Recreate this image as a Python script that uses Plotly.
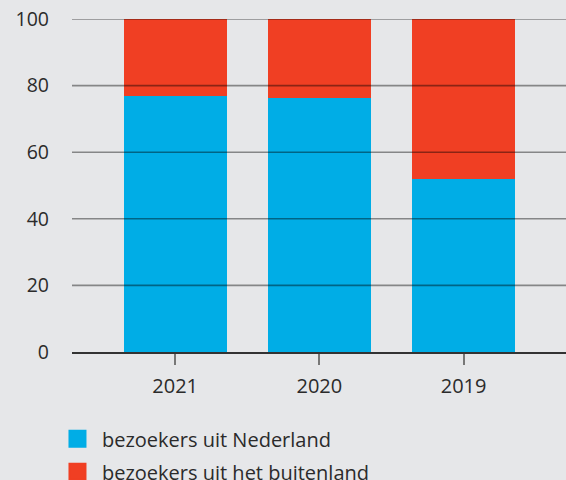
import plotly.graph_objects as go

years = ["2021", "2020", "2019"]
nederland = [77.0, 76.3, 52.0]
buitenland = [23.0, 23.7, 48.0]
series_names = ["bezoekers uit Nederland", "bezoekers uit het buitenland"]
series_colors = ["#00ADE6", "#F03F23"]
y_ticks = [0, 20, 40, 60, 80, 100]

BG = "#E6E7E9"
FONT = "Open Sans"

fig = go.Figure()
for name, vals, col in zip(series_names, [nederland, buitenland], series_colors):
    fig.add_trace(go.Bar(x=years, y=vals, name=name, marker=dict(color=col, line=dict(width=0)),
                         width=0.715, showlegend=False))
for i, (name, col) in enumerate(zip(series_names, series_colors)):
    fig.add_trace(go.Scatter(x=[None], y=[None], mode="markers", name=name, legendgroup=str(i),
                             marker=dict(symbol="square", size=16, color=col, line=dict(color=col, width=2))))

# gridlines drawn above the bars
for t in y_ticks[1:]:
    fig.add_shape(type="line", xref="paper", yref="y", x0=0, x1=1, y0=t, y1=t,
                  line=dict(color="rgba(0,0,0,0.42)", width=1.6), layer="above")

fig.update_layout(
    width=566, height=480,
    margin=dict(l=72, r=0, t=19, b=128, autoexpand=False),
    paper_bgcolor=BG, plot_bgcolor=BG,
    barmode="stack",
    font=dict(family=FONT, color="#2b2b2b", size=19),
    showlegend=True,
    legend=dict(x=-0.0385, xanchor="left", y=-0.202, yanchor="top", traceorder="grouped",
                itemwidth=39, tracegroupgap=4, font=dict(size=20, color="#2b2b2b"),
                bgcolor="rgba(0,0,0,0)"),
)
fig.update_xaxes(range=[-0.715, 2.71], showgrid=False, showline=True, linecolor="#333333", linewidth=2,
                 ticks="outside", ticklen=11, tickcolor="#777777", tickwidth=2,
                 tickfont=dict(size=20), ticklabelstandoff=4, layer="above traces")
fig.update_yaxes(range=[0, 100], tickvals=y_ticks, showgrid=False, zeroline=False, showline=False,
                 tickfont=dict(size=19.5), ticklabelstandoff=22)

fig.write_html("out.html", config={"displayModeBar": False},
               post_script="document.body.style.margin='0';document.body.style.overflow='hidden';")
